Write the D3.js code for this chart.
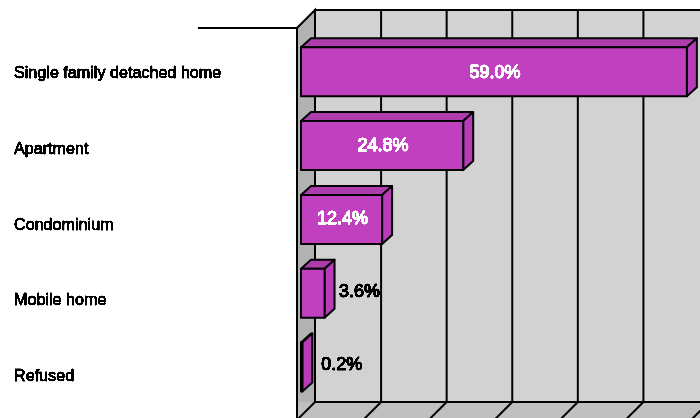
<!DOCTYPE html>
<html>
<head>
<meta charset="utf-8">
<style>
  html, body { margin: 0; padding: 0; background: #fff; }
  svg { display: block; }
  text { font-family: "Liberation Sans", Arial, sans-serif; }
</style>
<script src="https://cdn.jsdelivr.net/npm/d3@7/dist/d3.min.js"></script>
</head>
<body>
<svg id="chart" width="700" height="418"></svg>
<script>
// Housing type shares, in percent
const categories = ["Single family detached home", "Apartment", "Condominium", "Mobile home", "Refused"];
const shares = [59.0, 24.8, 12.4, 3.6, 0.2];
const gridTicks = [0, 10, 20, 30, 40, 50, 60];

const colors = { face: "#c040c0", top: "#ad3cad", side: "#b83cb8", wall: "#b2b2b2", back: "#d2d2d2", floor: "#c0c0c0", ink: "#000" };

// Oblique projection: front plane plus a depth offset for the chart box and the bars
const boxDepth = { x: 18, y: -18 };
const barDepth = { x: 10, y: -9 };
const x = d3.scaleLinear().domain([0, 60]).range([301, 693.4]);
const backX = d3.scaleLinear().domain([0, 60]).range([315.5, 709]);
const y = d3.scaleBand().domain(categories).range([47.3, 391.5]).paddingInner(0.336).paddingOuter(0);
const labelY = d3.scalePoint().domain(categories).range([72.5, 375.5]);
const valueY = d3.scalePoint().domain(categories).range([72, 364]);
const valueOutside = v => v < 5;
// The thinnest bar's label clears the bar by a little more
const outsideGap = v => v < 1 ? 19 : 14.5;

const wallTop = 28, wallBottom = 420, wallX = 297;

const svg = d3.select("#chart");
const line = d3.line();

// Threshold filter gives the text its hard, bitmap-like edge
const defs = svg.append("defs");
const hard = defs.append("filter").attr("id", "hard").attr("x", "-5%").attr("y", "-20%").attr("width", "110%").attr("height", "140%");
const ct = hard.append("feComponentTransfer");
ct.append("feFuncA").attr("type", "linear").attr("slope", 6).attr("intercept", -2.4);

// Back plane, left wall and floor of the box
const box = svg.append("g").attr("stroke", colors.ink).attr("stroke-width", 2).attr("stroke-linejoin", "miter");
box.append("rect")
  .attr("x", wallX + boxDepth.x).attr("y", wallTop + boxDepth.y)
  .attr("width", 700 - wallX).attr("height", wallBottom - wallTop)
  .attr("fill", colors.back);
box.append("path")
  .attr("d", line([[wallX, wallTop], [wallX + boxDepth.x, wallTop + boxDepth.y], [wallX + boxDepth.x, wallBottom + boxDepth.y], [wallX, wallBottom]]) + "Z")
  .attr("fill", colors.wall);
box.append("rect")
  .attr("x", wallX + 1).attr("y", wallBottom + boxDepth.y)
  .attr("width", 700).attr("height", 30)
  .attr("fill", colors.floor).attr("stroke", "none");
box.append("path")
  .attr("d", line([[wallX, wallBottom], [wallX + boxDepth.x, wallBottom + boxDepth.y], [720, wallBottom + boxDepth.y]]))
  .attr("fill", "none");

// Gridlines run up the back plane and forward across the floor
const grid = box.append("g").selectAll("g").data(gridTicks.slice(1)).join("g");
grid.append("line")
  .attr("x1", d => backX(d)).attr("x2", d => backX(d))
  .attr("y1", wallTop + boxDepth.y).attr("y2", wallBottom + boxDepth.y);
grid.append("line")
  .attr("x1", d => backX(d)).attr("x2", d => backX(d) - boxDepth.x)
  .attr("y1", wallBottom + boxDepth.y).attr("y2", wallBottom);

// Category tick stub on the front edge of the wall
svg.append("line")
  .attr("x1", 198).attr("x2", wallX).attr("y1", wallTop).attr("y2", wallTop)
  .attr("stroke", colors.ink).attr("stroke-width", 2);

// Bars with their top and side faces
const bars = svg.append("g").attr("stroke", colors.ink).attr("stroke-width", 2).attr("stroke-linejoin", "round")
  .selectAll("g").data(categories).join("g");
const x0 = x(0);
bars.append("path").attr("fill", colors.top).attr("d", (c, i) => {
  const t = y(c), r = x(shares[i]);
  return line([[x0, t], [x0 + barDepth.x, t + barDepth.y], [r + barDepth.x, t + barDepth.y], [r, t]]) + "Z";
});
bars.append("path").attr("fill", colors.side).attr("d", (c, i) => {
  const t = y(c), b = t + y.bandwidth(), r = x(shares[i]);
  return line([[r, t], [r + barDepth.x, t + barDepth.y], [r + barDepth.x, b + barDepth.y], [r, b]]) + "Z";
});
bars.append("rect").attr("fill", colors.face)
  .attr("x", x0).attr("y", c => y(c))
  .attr("width", (c, i) => x(shares[i]) - x0).attr("height", y.bandwidth());

// Category names
svg.append("g").attr("filter", "url(#hard)").selectAll("text").data(categories).join("text")
  .attr("x", 14).attr("y", c => labelY(c)).attr("dy", "0.35em")
  .attr("font-size", 16.15).attr("font-weight", 400).attr("stroke", "#000").attr("stroke-width", 0.8)
  .attr("fill", "#000").text(c => c);

// Value labels sit inside long bars and just past the side face of short ones
svg.append("g").attr("filter", "url(#hard)").selectAll("text").data(shares).join("text")
  .attr("x", v => valueOutside(v) ? x(v) + outsideGap(v) : (x0 + x(v)) / 2 + 1)
  .attr("y", (v, i) => valueY(categories[i]))
  .attr("dy", "0.35em")
  .attr("text-anchor", v => valueOutside(v) ? "start" : "middle")
  .attr("font-size", 18).attr("font-weight", 400)
  .attr("stroke", v => valueOutside(v) ? "#000" : "#fff").attr("stroke-width", 1.2)
  .attr("fill", v => valueOutside(v) ? "#000" : "#fff")
  .text(v => v.toFixed(1) + "%");
</script>
</body>
</html>
